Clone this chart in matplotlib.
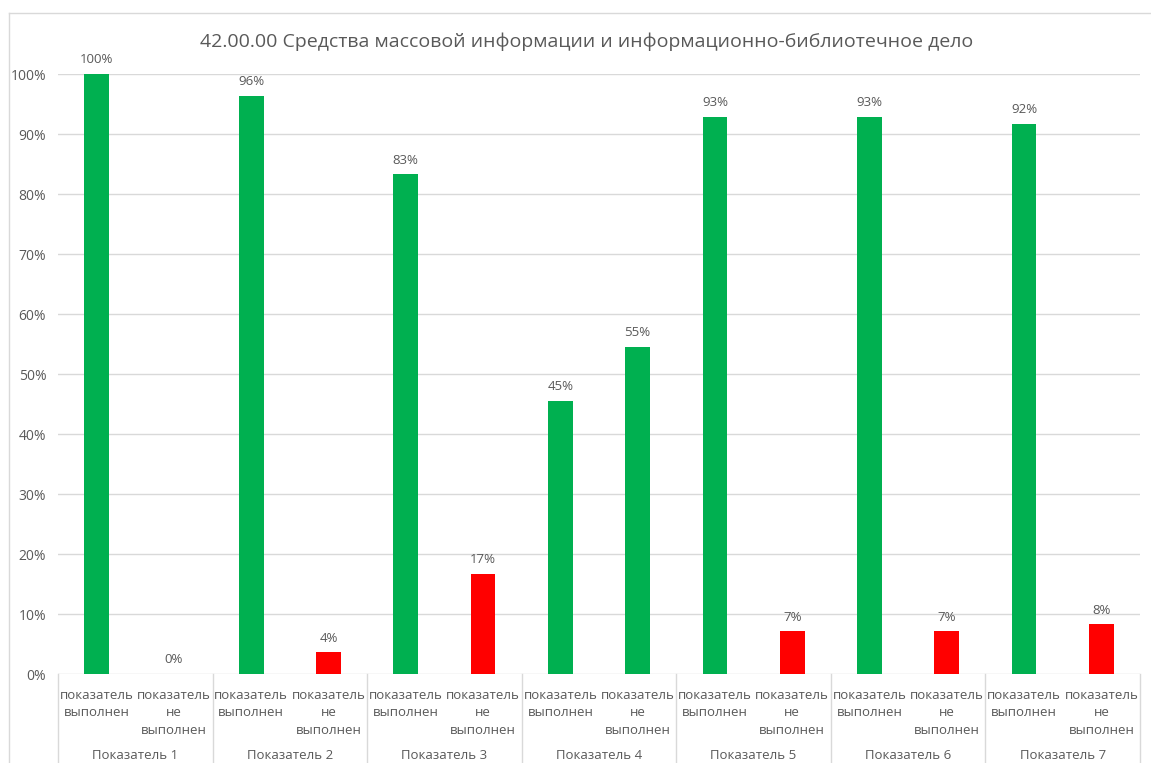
import numpy as np
import matplotlib.pyplot as plt
from matplotlib.lines import Line2D

plt.rcParams['font.family'] = ['Open Sans', 'DejaVu Sans']

title = "42.00.00 Средства массовой информации и информационно-библиотечное дело"
groups = ["Показатель 1", "Показатель 2", "Показатель 3", "Показатель 4",
          "Показатель 5", "Показатель 6", "Показатель 7"]
sub_labels = ["показатель\nвыполнен", "показатель\nне\nвыполнен"]
done = [100, 96.4, 83.3, 45.5, 92.9, 92.9, 91.7]
not_done = [0, 3.6, 16.7, 54.5, 7.1, 7.1, 8.3]
done_labels = ["100%", "96%", "83%", "45%", "93%", "93%", "92%"]
not_done_labels = ["0%", "4%", "17%", "55%", "7%", "7%", "8%"]
not_done_colors = ["#ff0000", "#ff0000", "#ff0000", "#00b050",
                   "#ff0000", "#ff0000", "#ff0000"]

green = "#00b050"
txt = "#595959"
grid = "#d9d9d9"

W, H = 1151, 763
fig = plt.figure(figsize=(W / 100, H / 100), dpi=100)
ax = fig.add_axes([58 / W, 89 / H, (1140 - 58) / W, 600 / H])

x = np.arange(len(groups))
bw = 0.16
ax.bar(x - 0.25, done, width=bw, color=green, zorder=3)
ax.bar(x + 0.25, not_done, width=bw, color=not_done_colors, zorder=3)

for xi, v, lab in zip(x, done, done_labels):
    ax.annotate(lab, (xi - 0.25, v), xytext=(0, 5.5), textcoords="offset points",
                ha="center", va="bottom", fontsize=9.5, color=txt)
for xi, v, lab in zip(x, not_done, not_done_labels):
    ax.annotate(lab, (xi + 0.25, v), xytext=(0, 5.5), textcoords="offset points",
                ha="center", va="bottom", fontsize=9.5, color=txt)

ax.set_xlim(-0.5, len(groups) - 0.5)
ax.set_ylim(0, 100)
ax.set_yticks(np.arange(0, 101, 10))
ax.set_yticklabels([f"{t}%" for t in range(0, 101, 10)])
ax.tick_params(axis="y", length=0, labelsize=10, labelcolor=txt, pad=8.5)
ax.set_xticks([])
ax.yaxis.grid(True, color=grid, linewidth=1)
ax.set_axisbelow(True)
for s in ax.spines.values():
    s.set_visible(False)

# category labels under the axis
trans = ax.get_xaxis_transform()
for xi in x:
    for off, lab in zip((-0.25, 0.25), sub_labels):
        ax.text(xi + off, -0.025, lab, transform=trans, ha="center", va="top",
                fontsize=9.5, color=txt, linespacing=1.45, clip_on=False)
    ax.text(xi, -0.125, groups[xi], transform=trans, ha="center", va="top",
            fontsize=9.5, color=txt, clip_on=False)

# group separators
for b in np.arange(-0.5, len(groups), 1.0):
    ax.add_line(Line2D([b, b], [0, -0.2], transform=trans, color=grid,
                       linewidth=1, clip_on=False))

# chart frame (cut off at right and bottom)
fig.add_artist(Line2D([9 / W, 9 / W], [0, 1 - 13 / H], color=grid, linewidth=1))
fig.add_artist(Line2D([9 / W, 1], [1 - 13 / H, 1 - 13 / H], color=grid, linewidth=1))

fig.text(587 / W, 1 - 42 / H, title, ha="center", va="center",
         fontsize=14, color=txt)

fig.savefig("out.png", dpi=100)
